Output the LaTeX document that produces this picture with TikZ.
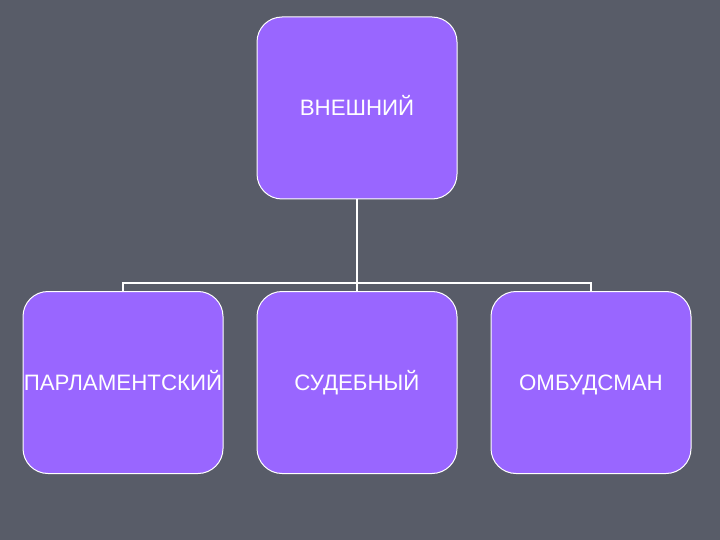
\documentclass[tikz,border=0pt]{standalone}
\usepackage{fontspec}
\setmainfont{Liberation Sans}
\usetikzlibrary{calc}
\definecolor{slate}{HTML}{585C68}
\definecolor{violet}{HTML}{9966FF}
\begin{document}
\begin{tikzpicture}[x=1pt,y=-1pt,
    box/.style={draw=white, line width=1pt, fill=violet, rounded corners=25pt,
        minimum width=200pt, minimum height=182pt, inner sep=0pt,
        text height=16pt, text depth=0pt,
        text=white, font=\fontsize{22.3}{26}\selectfont},
    link/.style={draw=white, line width=2pt}]
\fill[slate] (0,0) rectangle (720,540);
\useasboundingbox (0,0) rectangle (720,540);
\node[box] (outer) at (357,108) {ВНЕШНИЙ};
\node[box] (parl) at (123,382.5) {ПАРЛАМЕНТСКИЙ};
\node[box] (court) at (357,382.5) {СУДЕБНЫЙ};
\node[box] (ombud) at (591,382.5) {ОМБУДСМАН};
\coordinate (bus) at (0,283);
\draw[link] (outer.south) -- (outer.south |- bus);
\draw[link] (parl.north) -- (parl.north |- bus) -- (ombud.north |- bus) -- (ombud.north);
\draw[link] (court.north) -- (court.north |- bus);
\end{tikzpicture}
\end{document}
